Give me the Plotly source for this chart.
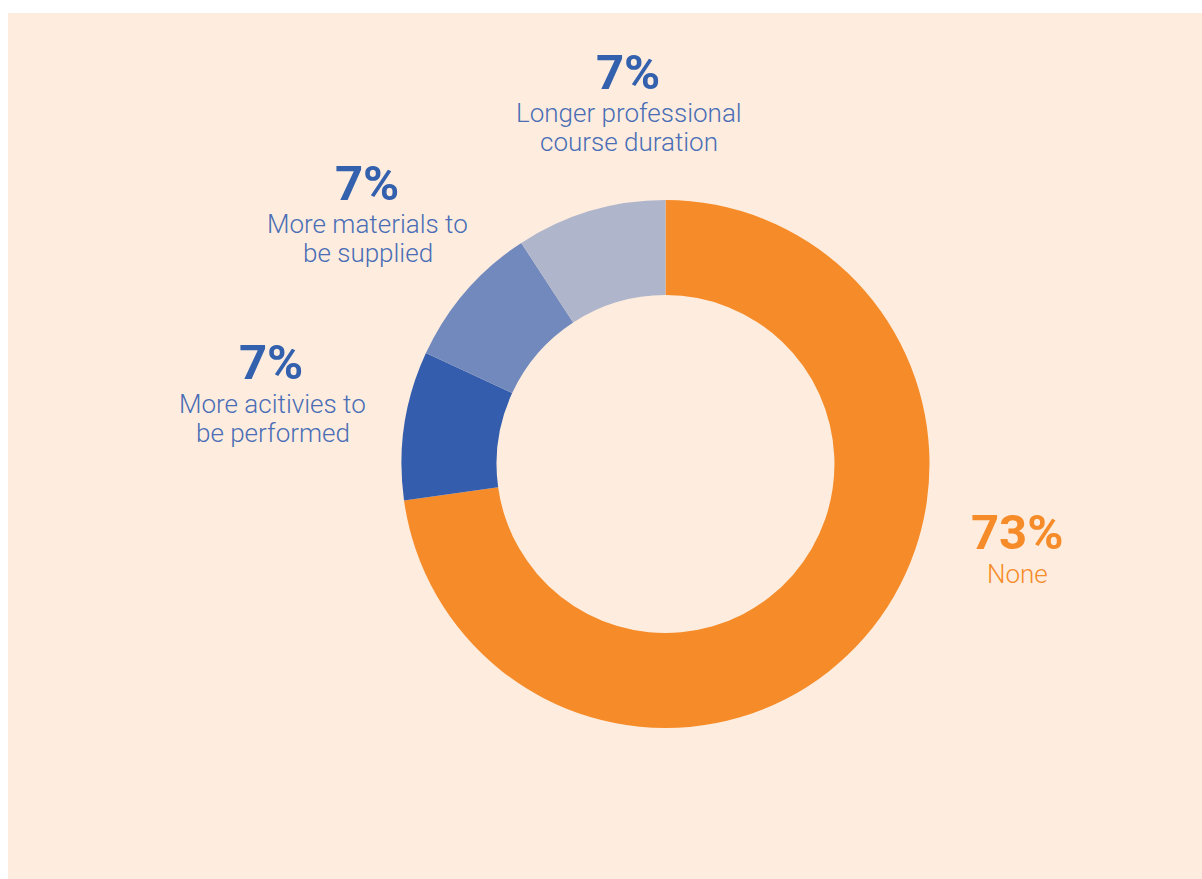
import plotly.graph_objects as go

categories = ["None", "More acitivies to be performed", "More materials to be supplied",
              "Longer professional course duration"]
slice_values = [72.8, 9.1, 8.9, 9.2]
pct_labels = ["73%", "7%", "7%", "7%"]
label_lines = [["None"], ["More acitivies to", "be performed"], ["More materials to", "be supplied"],
               ["Longer professional", "course duration"]]
colors = ["#F68B29", "#345EAD", "#7189BC", "#AFB5CA"]

W, H = 1202, 879
BG = "#FEEDDE"

fig = go.Figure()
fig.add_trace(go.Pie(
    labels=categories,
    values=slice_values,
    sort=False,
    direction="clockwise",
    rotation=0,
    hole=0.64,
    marker=dict(colors=colors, line=dict(width=0)),
    textinfo="none",
    hoverinfo="label+value",
    showlegend=False,
    domain=dict(x=[(665.5 - 264) / W, (665.5 + 264) / W], y=[1 - 728 / H, 1 - 200 / H]),
))

# label positions (pixel centres)
pct_pos = [(1016.5, 532.5), (271, 363), (366.5, 183), (628, 72)]
lab_x = [1017.5, 272.5, 367.5, 628.5]
lab_y1 = [573.7, 403.7, 223.7, 112.7]
LINE_GAP = 29.5
pct_colors = ["#F68B29", "#3461AE", "#3461AE", "#3461AE"]
lab_colors = ["#F68B29", "#4A6DB6", "#4A6DB6", "#4A6DB6"]

FONT = "Roboto, 'Liberation Sans', Arial, sans-serif"
annotations = []
for i in range(len(categories)):
    px, py = pct_pos[i]
    annotations.append(dict(
        x=px / W, y=1 - py / H, xref="paper", yref="paper",
        xanchor="center", yanchor="middle", showarrow=False,
        text="<b>" + pct_labels[i] + "</b>",
        font=dict(family=FONT, size=49, color=pct_colors[i]),
    ))
    for j, line in enumerate(label_lines[i]):
        ly = lab_y1[i] + j * LINE_GAP
        annotations.append(dict(
            x=lab_x[i] / W, y=1 - ly / H, xref="paper", yref="paper",
            xanchor="center", yanchor="middle", showarrow=False, align="center",
            text=line,
            font=dict(family=FONT, size=26, weight=300, color=lab_colors[i]),
        ))

fig.update_layout(
    width=W, height=H,
    margin=dict(l=0, r=0, t=0, b=0),
    paper_bgcolor="white",
    plot_bgcolor="white",
    shapes=[dict(type="rect", xref="paper", yref="paper", x0=8 / W, x1=1, y0=0, y1=1 - 13 / H,
                 fillcolor=BG, line=dict(width=0), layer="below")],
    annotations=annotations,
)

fig.write_html("out.html")
